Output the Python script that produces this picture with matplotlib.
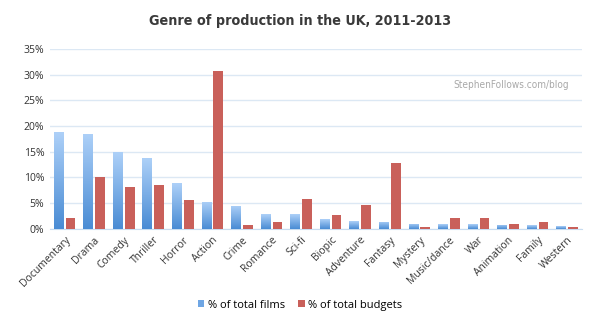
import matplotlib
matplotlib.use("Agg")
import matplotlib.pyplot as plt
import numpy as np
from matplotlib.colors import LinearSegmentedColormap

genres = ["Documentary", "Drama", "Comedy", "Thriller", "Horror", "Action", "Crime",
          "Romance", "Sci-fi", "Biopic", "Adventure", "Fantasy", "Mystery",
          "Music/dance", "War", "Animation", "Family", "Western"]
films = [18.8, 18.5, 14.9, 13.8, 8.9, 5.3, 4.5, 2.9, 2.9, 1.9, 1.5, 1.4, 1.0, 0.9, 0.9, 0.8, 0.7, 0.5]
budgets = [2.1, 10.0, 8.2, 8.6, 5.7, 30.7, 0.8, 1.4, 5.9, 2.7, 4.6, 12.8, 0.3, 2.1, 2.1, 1.0, 1.4, 0.3]
yticks = [0, 5, 10, 15, 20, 25, 30, 35]

plt.rcParams['font.family'] = ['Open Sans', 'DejaVu Sans']

fig = plt.figure(figsize=(6, 3.28), dpi=100)
ax = fig.add_axes([0.083, 0.302, 0.887, 0.549])

x = np.arange(len(genres))
w = 0.33
grad = LinearSegmentedColormap.from_list("g", ["#4a8cd4", "#add0f8"])
gimg = np.linspace(0, 1, 100).reshape(-1, 1)

ax.bar(x + 0.2, budgets, w, color="#c9605a", zorder=3, label="% of total budgets")
fb = ax.bar(x - 0.2, films, w, color="#6fa6e4", zorder=3, label="% of total films")
for r in fb:
    x0 = r.get_x()
    im = ax.imshow(gimg, cmap=grad, origin="lower", aspect="auto", zorder=4,
                   extent=(x0, x0 + r.get_width(), 0, r.get_height()))
    im.set_clip_path(r)

ax.set_xlim(-0.5, len(genres) - 0.5)
ax.set_ylim(0, 35)
ax.set_yticks(yticks)
ax.set_yticklabels([f"{v}%" for v in yticks], fontsize=7.5, color="#333333")
ax.set_xticks(x)
ax.set_xticklabels(genres, rotation=45, ha="right", rotation_mode="anchor", fontsize=7.5, color="#333333")
ax.tick_params(length=0, pad=4)
ax.grid(axis="y", color="#dce8f4", linewidth=1, zorder=0)
for s in ["top", "right", "left"]:
    ax.spines[s].set_visible(False)
ax.spines["bottom"].set_color("#c8dcf0")

fig.text(0.5, 0.937, "Genre of production in the UK, 2011-2013", ha="center", va="center",
         fontsize=10.3, fontweight="bold", color="#3a3a3a", fontstretch="condensed",
         family="DejaVu Sans")
ax.text(0.976, 0.8, "StephenFollows.com/blog", transform=ax.transAxes, ha="right", va="center",
        fontsize=7.2, color="#a8a8a8", fontstretch="condensed", family="DejaVu Sans")

h, l = ax.get_legend_handles_labels()
fig.legend(h[::-1], l[::-1], loc="center", bbox_to_anchor=(0.5, 0.07), ncol=2, frameon=False,
           fontsize=8, handlelength=0.6, handleheight=0.6, handletextpad=0.3, columnspacing=1.2)

fig.savefig("out.png", dpi=100)
